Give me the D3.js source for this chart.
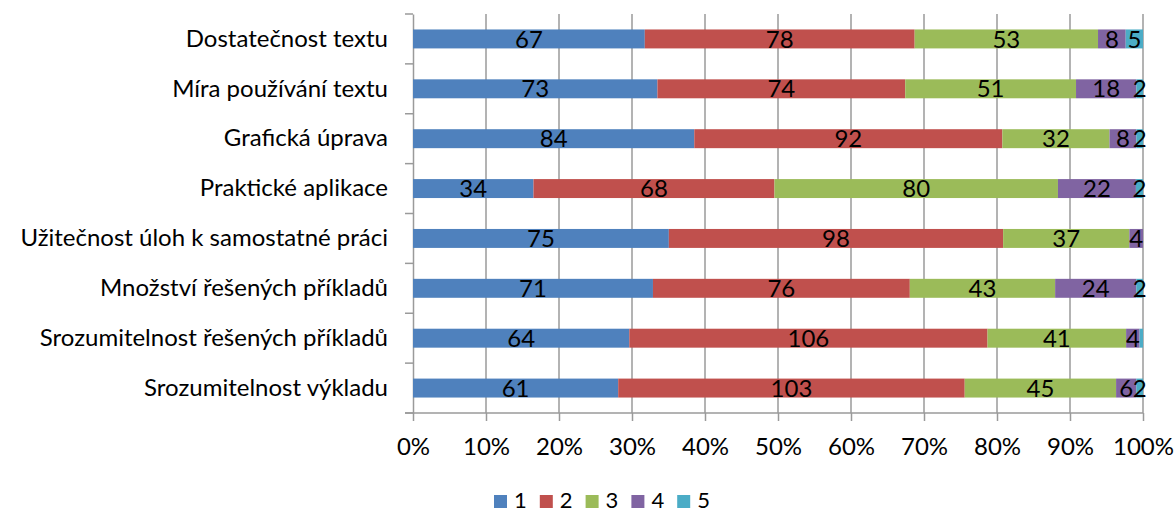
<!DOCTYPE html>
<html>
<head>
<meta charset="utf-8">
<script src="https://cdn.jsdelivr.net/npm/d3@7"></script>
<style>
  body { margin: 0; background: #fff; }
  text { font-family: Lato, "Open Sans", sans-serif; fill: #000; }
</style>
</head>
<body>
<svg id="chart" width="1175" height="512"></svg>
<script>
// Data
var categories = [
	"Dostatečnost textu",
	"Míra používání textu",
	"Grafická úprava",
	"Praktické aplikace",
	"Užitečnost úloh k samostatné práci",
	"Množství řešených příkladů",
	"Srozumitelnost řešených příkladů",
	"Srozumitelnost výkladu"
];
var seriesNames = ["1", "2", "3", "4", "5"];
var s1 = [67, 73, 84, 34, 75, 71, 64, 61];
var s2 = [78, 74, 92, 68, 98, 76, 106, 103];
var s3 = [53, 51, 32, 80, 37, 43, 41, 45];
var s4 = [8, 18, 8, 22, 4, 24, 4, 6];
var s5 = [5, 2, 2, 2, 0, 2, 1, 2];
var ticks = [0, 0.1, 0.2, 0.3, 0.4, 0.5, 0.6, 0.7, 0.8, 0.9, 1];
var colours = ["#4F81BD", "#C0504D", "#9BBB59", "#8064A2", "#4BACC6"];

// Build table for the stack
var table = categories.map((c, i) => {
	var row = {cat: c};
	[s1, s2, s3, s4, s5].forEach((s, j) => { row[seriesNames[j]] = s[i]; });
	return row;
});

var stacked = d3.stack()
	.keys(seriesNames)
	.offset(d3.stackOffsetExpand)(table);

// Sizes

var svg = d3.select("#chart"),
	margin = {left: 413, top: 14, right: 32, bottom: 99},
	width = 1175 - margin.left - margin.right,
	height = 512 - margin.top - margin.bottom,
	fontSize = 24;

var x = d3.scaleLinear().domain([0, 1]).range([0, width]);
var y = d3.scaleBand().domain(categories).range([0, height]).paddingInner(0.62).paddingOuter(0.31);

var g = svg.append("g")
	.attr("transform", "translate(" + margin.left + "," + margin.top + ")");

// Vertical gridlines

g.append("g")
	.selectAll("line")
	.data(ticks.slice(1))
	.enter()
	.append("line")
	.attr("x1", d => x(d))
	.attr("x2", d => x(d))
	.attr("y1", 0)
	.attr("y2", height)
	.style("stroke", "#9a9a9a")
	.style("stroke-width", 1.5);

// Axes

var xAxis = g.append("g")
	.attr("transform", "translate(0," + height + ")")
	.call(d3.axisBottom(x).tickValues(ticks).tickFormat(d3.format(".0%")).tickSize(8).tickPadding(17).tickSizeOuter(0));

var yAxis = g.append("g")
	.call(d3.axisLeft(y).tickSize(0).tickPadding(25));

// category separators on the left axis
g.append("g")
	.selectAll("line")
	.data(d3.range(categories.length + 1))
	.enter()
	.append("line")
	.attr("x1", -8)
	.attr("x2", 0)
	.attr("y1", i => i * y.step())
	.attr("y2", i => i * y.step())
	.style("stroke", "#9a9a9a")
	.style("stroke-width", 1.5);

[xAxis, yAxis].forEach(a => {
	a.selectAll(".domain, .tick line")
		.style("stroke", "#9a9a9a")
		.style("stroke-width", 1.5);
	a.selectAll("text")
		.style("font-size", fontSize + "px")
		.style("font-family", "Lato, sans-serif")
		.attr("fill", "#000");
});
xAxis.select(".domain").attr("d", "M-8,0H" + width);

// Bars

var layer = g.append("g")
	.selectAll("g")
	.data(stacked)
	.enter()
	.append("g")
	.attr("fill", (d, i) => colours[i]);

layer.selectAll("rect")
	.data(d => d)
	.enter()
	.append("rect")
	.attr("x", d => x(d[0]))
	.attr("y", d => y(d.data.cat))
	.attr("width", d => x(d[1]) - x(d[0]))
	.attr("height", y.bandwidth());

// Value labels

layer.each(function(s) {
	d3.select(this).selectAll("text")
		.data(s.filter(d => d.data[s.key] >= 2))
		.enter()
		.append("text")
		.attr("x", d => (x(d[0]) + x(d[1])) / 2)
		.attr("y", d => y(d.data.cat) + y.bandwidth() / 2)
		.attr("dy", "0.36em")
		.attr("text-anchor", "middle")
		.style("font-size", fontSize + "px")
		.text(d => d.data[s.key]);
});

// Legend

var legend = svg.append("g")
	.attr("transform", "translate(494,495)")
	.selectAll("g")
	.data(seriesNames)
	.enter()
	.append("g")
	.attr("transform", (d, i) => "translate(" + (i * 45.8) + ",0)");

legend.append("rect")
	.attr("width", 13)
	.attr("height", 13)
	.attr("fill", (d, i) => colours[i]);

legend.append("text")
	.attr("x", 20)
	.attr("y", 13)
	.style("font-size", "22px")
	.text(d => d);
</script>
</body>
</html>
